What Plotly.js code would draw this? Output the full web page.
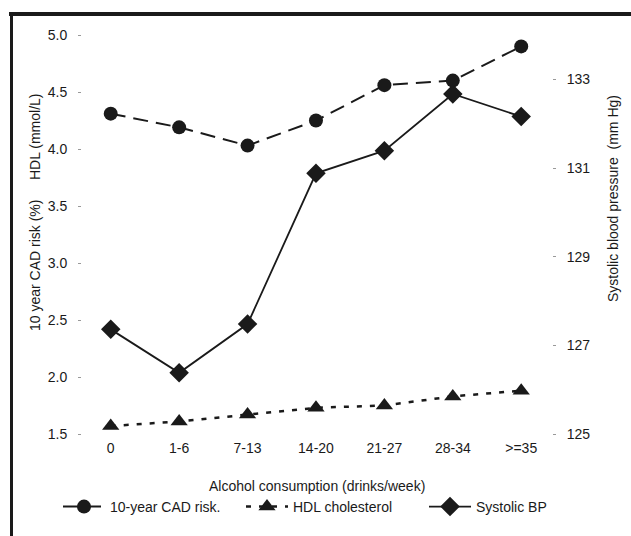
<!DOCTYPE html>
<html>
<head>
<meta charset="utf-8">
<script src="https://cdn.plot.ly/plotly-3.0.1.min.js"></script>
<style>
  html, body { margin: 0; padding: 0; background: #fff; }
  #chart { width: 631px; height: 536px; }
</style>
</head>
<body>
<div id="chart"></div>
<script>
// ---- data ----
const categories = ['0', '1-6', '7-13', '14-20', '21-27', '28-34', '>=35'];
const cadRisk = [4.31, 4.19, 4.03, 4.25, 4.56, 4.60, 4.90];          // 10-year CAD risk (%)
const hdlChol = [1.57, 1.61, 1.67, 1.73, 1.75, 1.83, 1.88];          // HDL (mmol/L)
const systolicBP = [127.36, 126.38, 127.48, 130.88, 131.39, 132.67, 132.16]; // mm Hg
const leftTicks = [1.5, 2.0, 2.5, 3.0, 3.5, 4.0, 4.5, 5.0];
const rightTicks = [125, 127, 129, 131, 133];
const seriesNames = ['10-year CAD risk.', 'HDL cholesterol', 'Systolic BP'];

const ink = '#1a1a1a';
const fontFam = '"Liberation Sans", Arial, Helvetica, sans-serif';

const traces = [
  {
    x: categories, y: cadRisk, name: seriesNames[0], type: 'scatter', mode: 'lines+markers',
    line: { color: ink, width: 2, dash: '15px,8px' },
    marker: { symbol: 'circle', size: 14, color: ink }
  },
  {
    x: categories, y: hdlChol, name: seriesNames[1], type: 'scatter', mode: 'lines+markers',
    line: { color: ink, width: 2.5, dash: '5px,8px' },
    marker: { symbol: 'triangle-up', size: 15, color: ink }
  },
  {
    x: categories, y: systolicBP, name: seriesNames[2], type: 'scatter', mode: 'lines+markers',
    yaxis: 'y2',
    line: { color: ink, width: 1.8 },
    marker: { symbol: 'diamond', size: 15, color: ink }
  }
];

// helpers for paper coords from pixel positions
const ML = 82, MR = 79, MT = 35, MB = 102, W = 631, H = 536;
const PW = W - ML - MR, PH = H - MT - MB;
const px = v => (v - ML) / PW;
const py = v => (H - MB - v) / PH;

const layout = {
  width: W, height: H,
  margin: { l: ML, r: MR, t: MT, b: MB },
  paper_bgcolor: '#fff', plot_bgcolor: '#fff',
  font: { family: fontFam, size: 14, color: ink },
  showlegend: true,
  legend: {
    orientation: 'h', x: px(58), xanchor: 'left', y: py(507), yanchor: 'middle',
    font: { family: fontFam, size: 14, color: ink },
    bgcolor: 'rgba(0,0,0,0)', tracegroupgap: 0,
    itemwidth: 42,
    entrywidth: 126, entrywidthmode: 'pixels'
  },
  xaxis: {
    type: 'category', range: [-0.42, 6.45],
    showline: false, showgrid: false, zeroline: false,
    ticks: '', tickfont: { size: 14, color: ink }, ticklabelstandoff: 4
  },
  xaxis2: {
    overlaying: 'x', anchor: 'y', side: 'bottom', range: [-0.42, 6.45],
    tickmode: 'array', tickvals: [0.5, 1.5, 2.5], showticklabels: false,
    ticks: 'outside', ticklen: 4, tickcolor: '#777', tickwidth: 1,
    showline: false, showgrid: false, zeroline: false
  },
  yaxis: {
    range: [1.5, 5.0], tickmode: 'array', tickvals: leftTicks,
    tickformat: '.1f', ticks: 'outside', ticklen: 3, tickcolor: '#999', tickwidth: 1,
    showline: false, showgrid: false, zeroline: false,
    tickfont: { size: 14, color: ink }, ticklabelstandoff: 8
  },
  yaxis2: {
    overlaying: 'y', side: 'right', range: [125, 134],
    tickmode: 'array', tickvals: rightTicks,
    ticks: 'outside', ticklen: 3, tickcolor: '#999', tickwidth: 1,
    showline: false, showgrid: false, zeroline: false,
    tickfont: { size: 14, color: ink }, ticklabelstandoff: 8
  },
  annotations: [
    {
      xref: 'paper', yref: 'paper', x: px(35), y: py(212), xanchor: 'center', yanchor: 'middle',
      text: '10 year CAD risk (%)\u00a0\u00a0\u00a0\u00a0\u00a0HDL (mmol/L)', textangle: -90, showarrow: false,
      font: { family: fontFam, size: 14, color: ink }
    },
    {
      xref: 'paper', yref: 'paper', x: px(613), y: py(199), xanchor: 'center', yanchor: 'middle',
      text: 'Systolic blood pressure\u00a0\u00a0(mm Hg)', textangle: -90, showarrow: false,
      font: { family: fontFam, size: 14, color: ink }
    },
    {
      xref: 'paper', yref: 'paper', x: 0.5, y: py(486), xanchor: 'center', yanchor: 'middle',
      text: 'Alcohol consumption (drinks/week)', showarrow: false,
      font: { family: fontFam, size: 14, color: ink }
    }
  ],
  shapes: [
    { type: 'line', xref: 'paper', yref: 'paper', x0: px(9), x1: px(650), y0: py(14), y1: py(14),
      line: { color: ink, width: 4 } },
    { type: 'line', xref: 'paper', yref: 'paper', x0: px(11.5), x1: px(11.5), y0: py(12), y1: py(560),
      line: { color: ink, width: 3 } }
  ]
};

Plotly.newPlot('chart', traces, layout, { displayModeBar: false, staticPlot: true });
</script>
</body>
</html>
